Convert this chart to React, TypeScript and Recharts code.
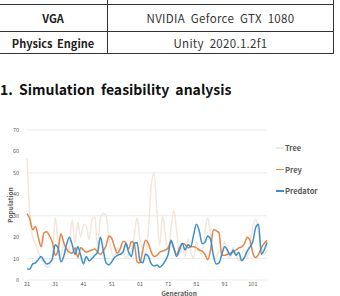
import { LineChart, Line, XAxis, YAxis, CartesianGrid, Legend } from "recharts"

const generations = [
  21, 22, 23, 24, 25, 26, 27, 28, 29, 30,
  31, 32, 33, 34, 35, 36, 37, 38, 39, 40,
  41, 42, 43, 44, 45, 46, 47, 48, 49, 50,
  51, 52, 53, 54, 55, 56, 57, 58, 59, 60,
  61, 62, 63, 64, 65, 66, 67, 68, 69, 70,
  71, 72, 73, 74, 75, 76, 77, 78, 79, 80,
  81, 82, 83, 84, 85, 86, 87, 88, 89, 90,
  91, 92, 93, 94, 95, 96, 97, 98, 99, 100,
  101, 102, 103, 104, 105, 106,
]

const tree = [
  57, 30, 20, 17, 13, 10, 7.5, 6, 6.5, 10,
  29, 18, 11, 17, 12, 16, 28, 17, 27, 20,
  26, 25, 19, 28, 29.5, 15, 29, 31, 30, 20,
  13, 11, 15, 12, 14, 10, 12, 14, 21, 29,
  19, 14, 12, 24, 44, 50, 32, 16, 30, 21,
  13, 24, 32.5, 23, 12, 15, 11, 19, 13, 10,
  18, 14, 12, 22, 29, 21, 12, 10, 14, 12,
  18, 12, 10, 15, 12, 9, 12, 14, 10, 18,
  25, 28.5, 22, 15, 12, 14,
]

const prey = [
  31, 28.5, 23.5, 25, 20, 15.5, 22, 22.5, 20.5, 17.5,
  11.5, 14, 21.5, 17.5, 14.5, 13, 12.5, 15, 10.5, 15,
  14, 13, 13.5, 14, 14.5, 13, 12, 13.5, 16, 20.5,
  19.5, 15.5, 12.5, 14.5, 18, 17.5, 14.5, 18, 17, 8.5,
  8, 14, 18.5, 17, 13, 11, 11.5, 13, 13.5, 14,
  15, 18, 14.5, 12, 15, 17, 16.5, 15, 15.5, 15.5,
  15, 14, 13.5, 12, 9.5, 14, 23.5, 23, 22, 11.5,
  11.5, 12, 12.5, 13, 14, 15, 15.5, 17, 20, 18.5,
  12.5, 10.5, 12, 15, 17, 18.5,
]

const predator = [
  5.2, 5, 7.5, 8, 9.5, 11, 9, 7.5, 8, 10,
  16.5, 15, 8.5, 11, 16.5, 20, 16.5, 12, 15.5, 11.5,
  7.5, 11, 9, 10, 11.5, 13, 20, 14, 8, 7,
  8.5, 10.5, 11.5, 12, 13, 17, 13, 11, 17, 17.5,
  9, 8, 12, 11, 7.5, 6.5, 7, 6, 7, 9,
  12, 18.5, 15, 11, 14, 17, 14, 16.5, 15.5, 21,
  26, 23, 17, 17.5, 20.5, 19, 11.5, 7.5, 8, 12,
  15.5, 14, 11.5, 14, 11.5, 13, 9, 10.5, 13.5, 15.5,
  18, 24.5, 26, 12, 14, 17.5,
]

const seriesOrder = ["Tree", "Prey", "Predator"]
const xTicks = [21, 31, 41, 51, 61, 71, 81, 91, 101]
const yTicks = [0, 10, 20, 30, 40, 50, 60, 70]

const specRows = [
  ["VGA", "NVIDIA Geforce GTX 1080"],
  ["Physics Engine", "Unity 2020.1.2f1"],
]

const font = '"Noto Sans CJK KR", "Noto Sans", sans-serif'

const data = generations.map((g, i) => ({
  generation: g,
  Tree: tree[i],
  Prey: prey[i],
  Predator: predator[i],
}))

function LegendBox({ payload }: any) {
  const items = [...(payload || [])].sort(
    (a: any, b: any) => seriesOrder.indexOf(a.value) - seriesOrder.indexOf(b.value)
  )
  return (
    <div>
      {items.map((p: any) => (
        <div key={p.value} style={{ display: "flex", alignItems: "center", height: 21.5 }}>
          <span style={{ width: 8, height: 1.5, background: p.color, marginRight: 1 }} />
          <span style={{ fontSize: 7.5, fontWeight: 700, color: "#595959", fontFamily: font }}>{p.value}</span>
        </div>
      ))}
    </div>
  )
}

const axisTitle = { position: "absolute" as const, fontSize: 6.5, fontWeight: 700, color: "#595959", whiteSpace: "nowrap" as const, lineHeight: "6.5px" }

export default function App() {
  const line = "1px solid #333"
  return (
    <div style={{ position: "fixed", left: 0, top: 0, width: 340, height: 296, overflow: "hidden", background: "#fff", fontFamily: font }}>
      {/* spec table, top row cut off */}
      <div style={{ position: "absolute", left: -1, top: 0, width: 335 }}>
        <div style={{ height: 4, display: "flex", borderBottom: "1.5px solid #333", borderRight: line }}>
          <div style={{ width: 108, borderRight: line }} />
        </div>
        {specRows.map((r, i) => (
          <div key={r[0]} style={{ display: "flex", height: i === 0 ? 26 : 21, borderBottom: i === 1 ? "1.5px solid #333" : line, borderRight: line }}>
            <div style={{ width: 108, borderRight: line, display: "flex", alignItems: "center", justifyContent: "center", fontSize: 11, fontWeight: 700, color: "#222", wordSpacing: 2 }}>{r[0]}</div>
            <div style={{ flex: 1, display: "flex", alignItems: "center", justifyContent: "center", fontSize: 11.5, color: "#333", wordSpacing: 3, letterSpacing: 0.3 }}>{r[1]}</div>
          </div>
        ))}
      </div>

      <div style={{ position: "absolute", left: 0, top: 79, fontSize: 14, fontWeight: 700, color: "#111", whiteSpace: "nowrap", wordSpacing: 3 }}>
        1. Simulation feasibility analysis
      </div>

      <div style={{ position: "absolute", left: 0, top: 110 }}>
        <LineChart width={340} height={200} data={data} margin={{ top: 20, right: 9, left: 0, bottom: 6 }}>
          <CartesianGrid vertical={false} stroke="#e6e6e6" strokeWidth={0.8} />
          <XAxis
            dataKey="generation"
            type="number"
            domain={[21, 106]}
            ticks={xTicks}
            axisLine={false}
            tickLine={false}
            tickSize={2}
            tickMargin={0}
            height={24}
            tick={{ fill: "#595959", fontSize: 5.5, fontFamily: font }}
          />
          <YAxis
            domain={[0, 70]}
            ticks={yTicks}
            axisLine={false}
            tickLine={false}
            width={27}
            tick={{ fill: "#595959", fontSize: 5.5, fontFamily: font }}
          />
          <Legend
            layout="vertical"
            verticalAlign="top"
            align="right"
            content={<LegendBox />}
            wrapperStyle={{ left: 276, top: 27, width: 64 }}
          />
          <Line type="monotone" dataKey="Tree" stroke="#f3e6da" strokeWidth={1.5} dot={false} isAnimationActive={false} />
          <Line type="monotone" dataKey="Prey" stroke="#e3864a" strokeWidth={1.5} dot={false} isAnimationActive={false} />
          <Line type="monotone" dataKey="Predator" stroke="#3a8fcf" strokeWidth={1.5} dot={false} isAnimationActive={false} />
        </LineChart>
      </div>

      <div style={{ ...axisTitle, left: 179, top: 289.5, transform: "translateX(-50%)" }}>Generation</div>
      <div style={{ ...axisTitle, left: 10, top: 205, transform: "translate(-50%, -50%) rotate(-90deg)" }}>Population</div>
    </div>
  )
}
